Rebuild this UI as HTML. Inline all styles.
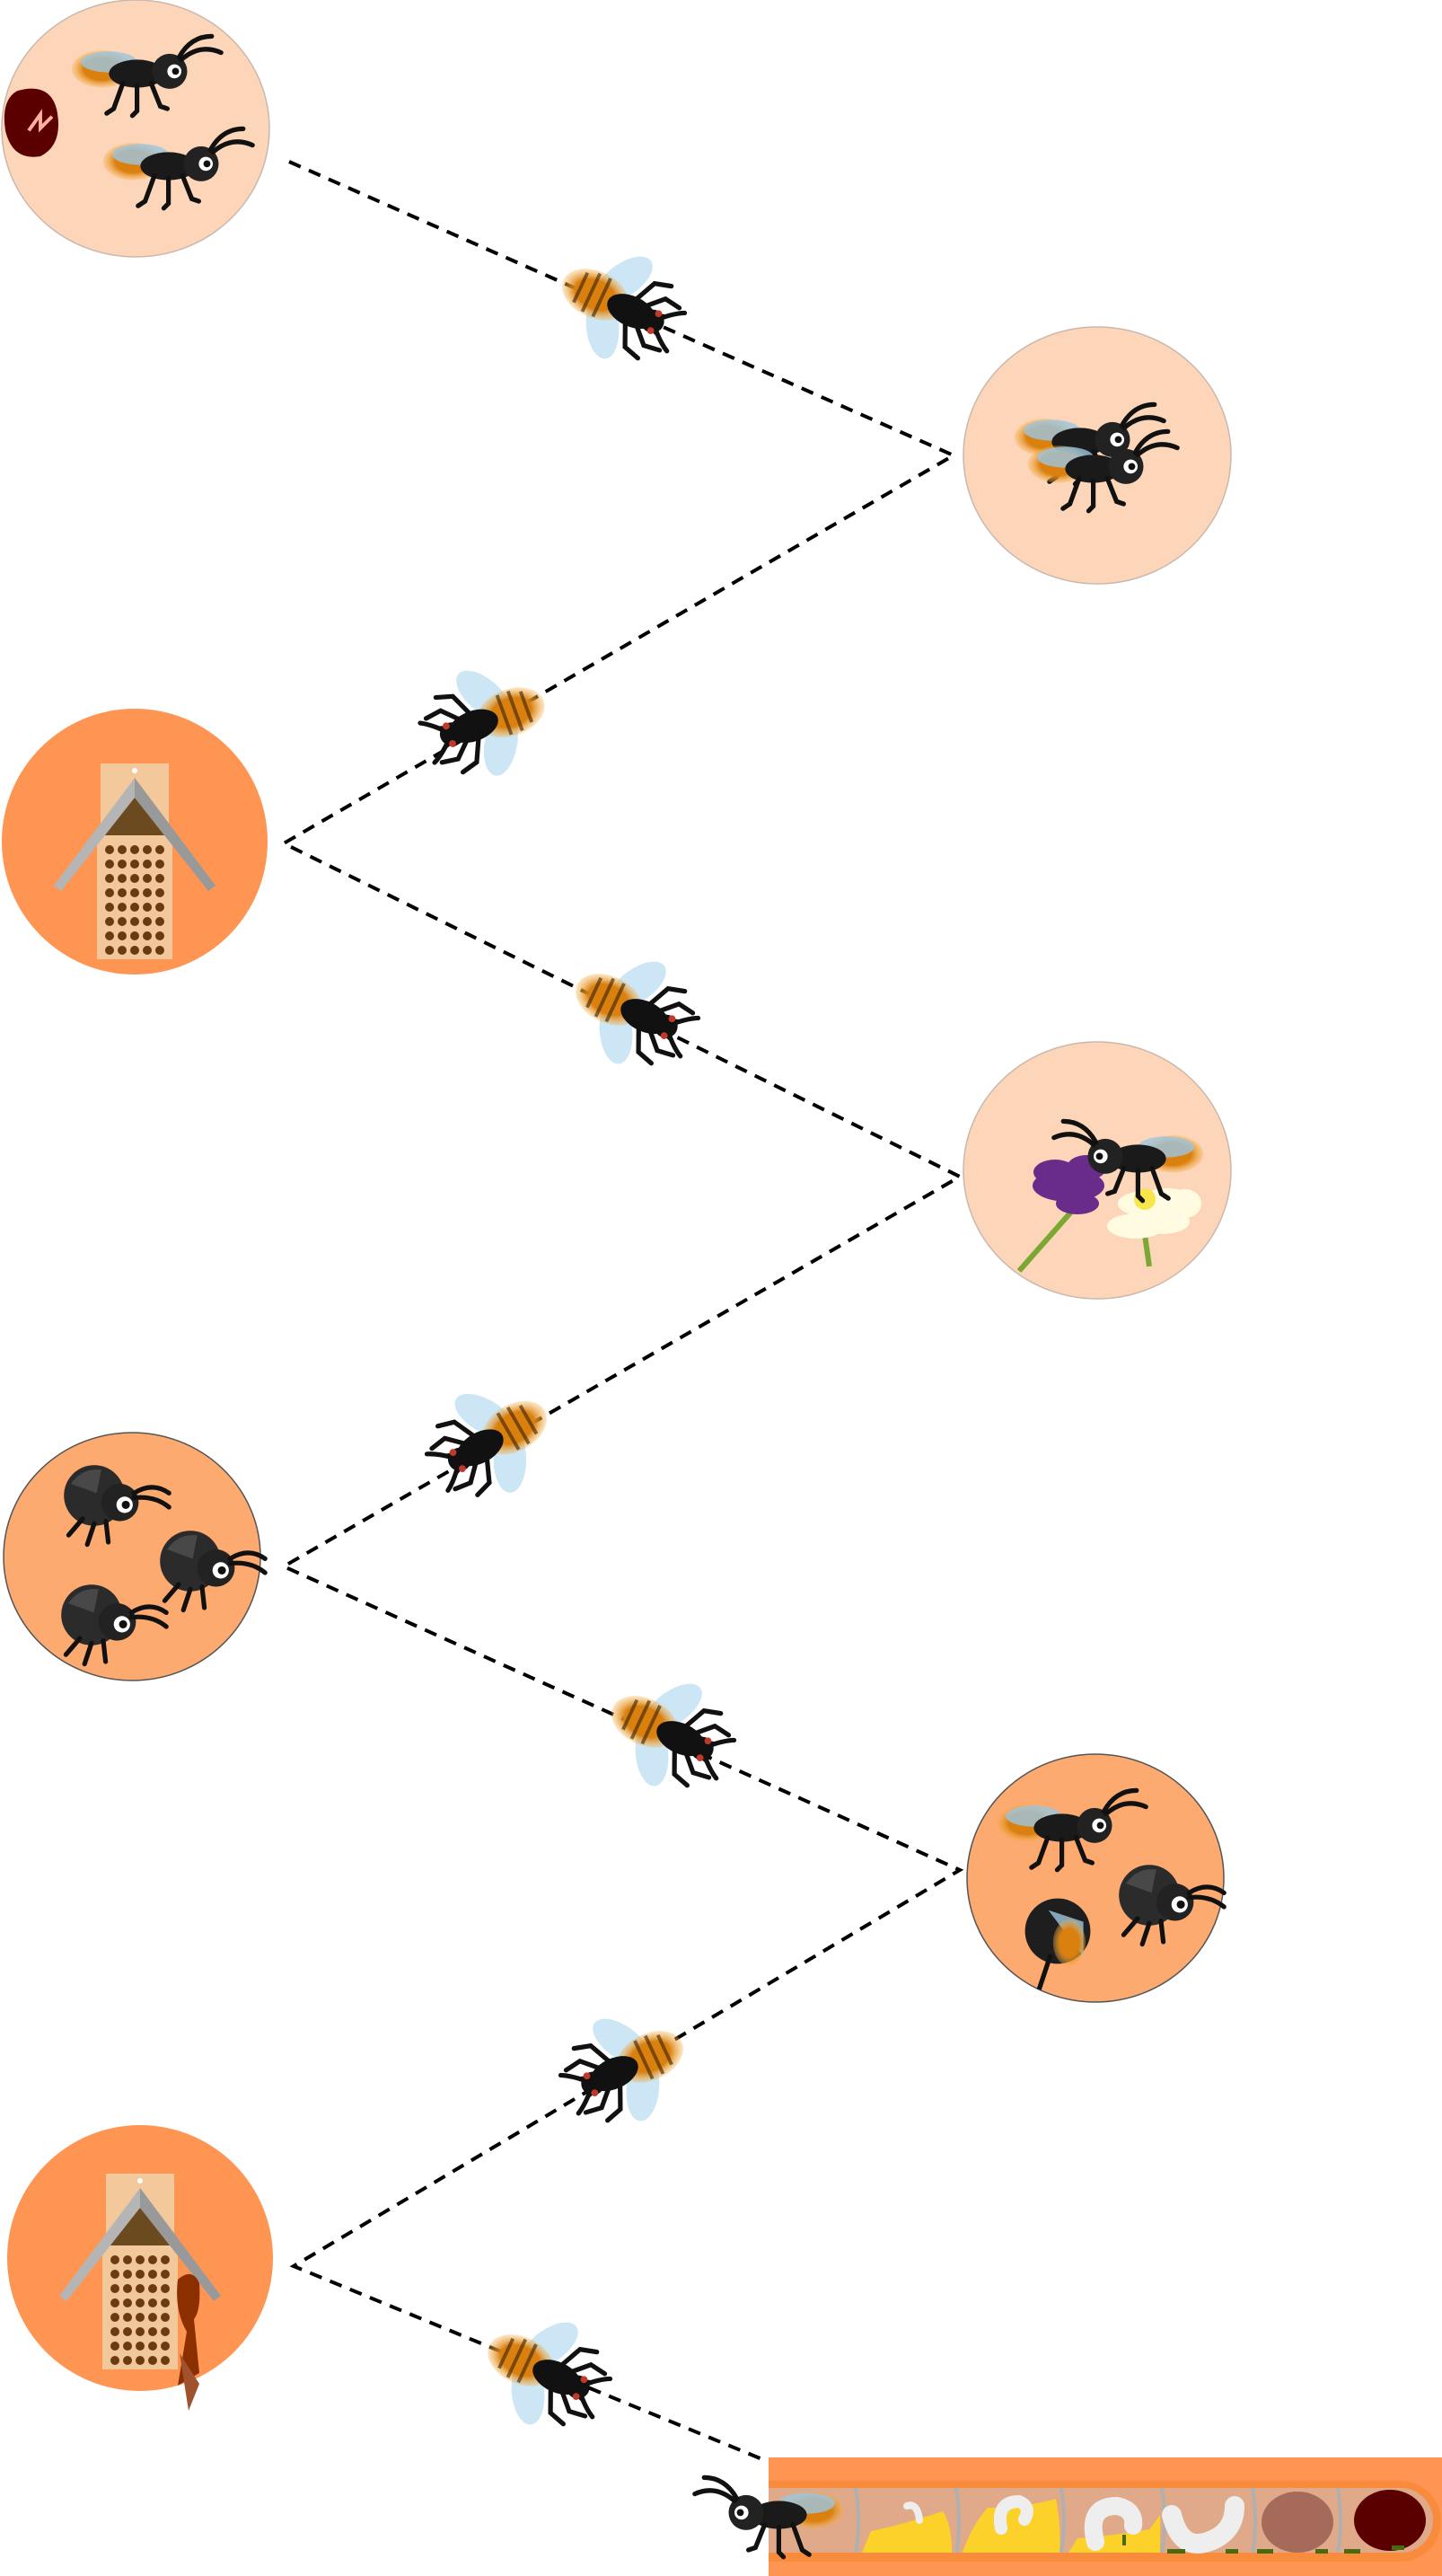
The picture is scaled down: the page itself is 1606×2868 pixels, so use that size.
<!DOCTYPE html>
<html><head><meta charset="utf-8"><style>html,body{margin:0;padding:0;background:#fff}svg{display:block}</style></head><body>
<svg width="1606" height="2868" viewBox="0 0 1606 2868" xmlns="http://www.w3.org/2000/svg">
<defs>
<radialGradient id="fur" cx="50%" cy="50%" r="50%"><stop offset="0.6" stop-color="#d9800f"/><stop offset="1" stop-color="#f5b04a" stop-opacity="0.3"/></radialGradient>
<g id="bee">
 <ellipse cx="-5" cy="-22" rx="28" ry="14" fill="#bfe0f2" opacity="0.8" transform="rotate(-60 -5 -22)"/>
 <ellipse cx="-5" cy="22" rx="28" ry="14" fill="#bfe0f2" opacity="0.8" transform="rotate(60 -5 22)"/>
 <g stroke="#111" stroke-width="4" fill="none" stroke-linecap="round">
  <path d="M10 -8 l10 -22 l14 -4"/><path d="M18 -6 l16 -16 l14 2"/><path d="M22 -2 l18 -6"/>
  <path d="M10 8 l10 22 l14 4"/><path d="M18 6 l16 16 l14 -2"/><path d="M22 2 l18 6"/>
  <path d="M36 -4 q10 -10 18 -14"/><path d="M36 4 q10 10 18 14"/>
 </g>
 <ellipse cx="-22" cy="0" rx="30" ry="20" fill="url(#fur)"/>
 <g stroke="#3a2000" stroke-width="3" opacity="0.6"><path d="M-36 -14 v28"/><path d="M-26 -18 v36"/><path d="M-16 -18 v36"/></g>
 <ellipse cx="12" cy="0" rx="22" ry="13" fill="#111"/>
 <circle cx="32" cy="0" r="10" fill="#111"/>
 <circle cx="34" cy="-8" r="3" fill="#c0392b"/><circle cx="34" cy="8" r="3" fill="#c0392b"/>
</g>
<g id="walker">
 <ellipse cx="-28" cy="-4" rx="26" ry="16" fill="url(#fur)"/>
 <ellipse cx="-22" cy="-10" rx="24" ry="9" fill="#9cc6e0" opacity="0.8"/>
 <ellipse cx="2" cy="0" rx="24" ry="12" fill="#1a1a1a"/>
 <circle cx="30" cy="-2" r="15" fill="#222"/>
 <circle cx="34" cy="-2" r="6" fill="#fff"/><circle cx="35" cy="-2" r="3" fill="#111"/>
 <g stroke="#111" stroke-width="4" fill="none" stroke-linecap="round">
  <path d="M-10 8 l-8 22 l-6 4"/><path d="M2 10 l0 22 l-4 4"/><path d="M14 8 l8 20 l6 2"/>
  <path d="M40 -12 q16 -14 34 -6"/><path d="M38 -14 q10 -18 28 -18"/>
 </g>
</g>
<g id="round">
 <circle cx="0" cy="0" r="26" fill="#2b2b2b"/>
 <path d="M-20 -10 q10 -14 26 -12 l-4 20z" fill="#555" opacity="0.7"/>
 <circle cx="22" cy="6" r="16" fill="#222"/>
 <circle cx="26" cy="8" r="7" fill="#fff"/><circle cx="27" cy="8" r="3.5" fill="#111"/>
 <g stroke="#111" stroke-width="4" fill="none" stroke-linecap="round">
  <path d="M0 24 l-6 18"/><path d="M10 22 l2 18"/><path d="M-10 20 l-12 14"/>
  <path d="M34 -2 q16 -10 30 0"/><path d="M34 2 q18 -2 30 8"/>
 </g>
</g>
<g id="house">
 <rect x="-42" y="-22" width="84" height="140" fill="#f2c89a"/>
 <rect x="-38" y="-100" width="76" height="90" fill="#f3c99b"/>
 <path d="M-40 -20 L0 -62 L40 -20 Z" fill="#6b4a20"/>
 <g fill="#6b3a10">
  <circle cx="-28" cy="-4" r="5"/><circle cx="-14" cy="-4" r="5"/><circle cx="0" cy="-4" r="5"/><circle cx="14" cy="-4" r="5"/><circle cx="28" cy="-4" r="5"/>
  <circle cx="-28" cy="12" r="5"/><circle cx="-14" cy="12" r="5"/><circle cx="0" cy="12" r="5"/><circle cx="14" cy="12" r="5"/><circle cx="28" cy="12" r="5"/>
  <circle cx="-28" cy="28" r="5"/><circle cx="-14" cy="28" r="5"/><circle cx="0" cy="28" r="5"/><circle cx="14" cy="28" r="5"/><circle cx="28" cy="28" r="5"/>
  <circle cx="-28" cy="44" r="5"/><circle cx="-14" cy="44" r="5"/><circle cx="0" cy="44" r="5"/><circle cx="14" cy="44" r="5"/><circle cx="28" cy="44" r="5"/>
  <circle cx="-28" cy="60" r="5"/><circle cx="-14" cy="60" r="5"/><circle cx="0" cy="60" r="5"/><circle cx="14" cy="60" r="5"/><circle cx="28" cy="60" r="5"/>
  <circle cx="-28" cy="76" r="5"/><circle cx="-14" cy="76" r="5"/><circle cx="0" cy="76" r="5"/><circle cx="14" cy="76" r="5"/><circle cx="28" cy="76" r="5"/>
  <circle cx="-28" cy="92" r="5"/><circle cx="-14" cy="92" r="5"/><circle cx="0" cy="92" r="5"/><circle cx="14" cy="92" r="5"/><circle cx="28" cy="92" r="5"/>
  <circle cx="-28" cy="108" r="5"/><circle cx="-14" cy="108" r="5"/><circle cx="0" cy="108" r="5"/><circle cx="14" cy="108" r="5"/><circle cx="28" cy="108" r="5"/>
 </g>
 <path d="M-90 36 L0 -84 L90 36 L82 42 L0 -62 L-82 42 Z" fill="#b5b5b5"/>
 <path d="M0 -84 L90 36 L82 42 L0 -62 Z" fill="#999"/>
 <circle cx="0" cy="-92" r="3" fill="#fff"/>
</g>
</defs>

<polyline points="322,180 1062,507 316,939 1069,1310 316,1744 1069,2082 327,2523 849,2738" fill="none" stroke="#000" stroke-width="4" stroke-dasharray="14,10"/>

<ellipse cx="151" cy="143" rx="149" ry="143" fill="#fdd5b8" stroke="#c9b8ad" stroke-width="1.5"/>
<g transform="translate(58,148) scale(1.3)"><path d="M-30 -36 q28 -8 34 16 q6 30 -14 40 q-24 4 -30 -22 q-4 -26 10 -34z" fill="#5a0000"/><path d="M-20 -2 l10 -14 l0 12 l10 -10" stroke="#ffb0a0" stroke-width="3" fill="none"/></g>
<use href="#walker" transform="translate(150,82) scale(1.3)"/>
<use href="#walker" transform="translate(185,185) scale(1.3)"/>

<ellipse cx="1222" cy="507" rx="149" ry="143" fill="#fdd5b8" stroke="#c9b8ad" stroke-width="1.5"/>
<use href="#walker" transform="translate(1200,492) scale(1.3)"/>
<use href="#walker" transform="translate(1215,522) scale(1.3)"/>

<circle cx="150" cy="937" r="148" fill="#fe9552"/>
<use href="#house" transform="translate(150,950)"/>

<ellipse cx="1222" cy="1303" rx="149" ry="143" fill="#fdd5b8" stroke="#c9b8ad" stroke-width="1.5"/>
<path d="M1135 1415 L1210 1330" stroke="#7aa832" stroke-width="6"/>
<path d="M1270 1340 L1280 1410" stroke="#7aa832" stroke-width="6"/>
<g fill="#fffbe0"><ellipse cx="1275" cy="1340" rx="30" ry="14"/><ellipse cx="1300" cy="1335" rx="28" ry="12"/><ellipse cx="1265" cy="1365" rx="32" ry="14"/><ellipse cx="1295" cy="1360" rx="30" ry="14"/><ellipse cx="1320" cy="1340" rx="18" ry="16"/></g>
<circle cx="1275" cy="1335" r="12" fill="#f7e54a"/>
<g fill="#6a2c8a"><ellipse cx="1190" cy="1320" rx="40" ry="18"/><ellipse cx="1175" cy="1305" rx="24" ry="14"/><ellipse cx="1210" cy="1300" rx="22" ry="14"/><ellipse cx="1200" cy="1340" rx="24" ry="12"/></g>
<use href="#walker" transform="translate(1270,1290) scale(-1.3,1.3)"/>

<ellipse cx="147" cy="1733" rx="143" ry="138" fill="#fdaa70" stroke="#555" stroke-width="1.5"/>
<use href="#round" transform="translate(105,1665) scale(1.3)"/>
<use href="#round" transform="translate(212,1738) scale(1.3)"/>
<use href="#round" transform="translate(102,1798) scale(1.3)"/>

<ellipse cx="1220" cy="2091" rx="143" ry="138" fill="#fdaa70" stroke="#555" stroke-width="1.5"/>
<use href="#walker" transform="translate(1180,2035) scale(1.3)"/>
<use href="#round" transform="translate(1280,2110) scale(1.3)"/>
<g transform="translate(1178,2150) scale(1.3)"><circle r="28" fill="#1e1e1e"/><path d="M-8 -18 l30 10 l0 30 z" fill="#9cc6e0" opacity="0.8"/><ellipse cx="10" cy="10" rx="14" ry="20" fill="url(#fur)"/><path d="M-6 20 l-10 30" stroke="#111" stroke-width="4"/></g>

<circle cx="156" cy="2514" r="148" fill="#fe9552"/>
<use href="#house" transform="translate(156,2520)"/>
<path d="M198 2538 q16 -14 24 4 q2 30 -6 40 l6 60 l-24 14 l10 -60 q-14 -24 -10 -58z" fill="#8b2e00"/>
<path d="M200 2620 l10 64 l12 -30z" fill="#a0522d"/>

<use href="#bee" transform="translate(689,340) rotate(25) scale(1.3)"/>
<use href="#bee" transform="translate(542,803) rotate(160) scale(1.3)"/>
<use href="#bee" transform="translate(704,1125) rotate(25) scale(1.3)"/>
<use href="#bee" transform="translate(548,1604) rotate(150) scale(1.3)"/>
<use href="#bee" transform="translate(744,1929) rotate(25) scale(1.3)"/>
<use href="#bee" transform="translate(698,2302) rotate(155) scale(1.3)"/>
<use href="#bee" transform="translate(606,2640) rotate(25) scale(1.3)"/>

<rect x="856" y="2736" width="750" height="132" fill="#fe9552"/>
<path d="M856 2762 H1560 a45 45 0 0 1 0 90 H856 Z" fill="#f98c3c"/>
<path d="M856 2770 H1560 a36 36 0 0 1 0 72 H856 Z" fill="#e0a98a"/>
<g stroke="#b0b0b0" stroke-width="4" fill="none">
 <path d="M953 2770 q6 36 0 72"/><path d="M1065 2770 q6 36 0 72"/><path d="M1182 2770 q6 36 0 72"/><path d="M1294 2770 q6 36 0 72"/><path d="M1395 2770 q6 36 0 72"/><path d="M1490 2770 q6 36 0 72"/>
</g>
<path d="M960 2842 l10 -24 q30 -6 80 -22 q10 14 10 46z" fill="#fcd12a"/>
<path d="M1072 2842 q10 -30 28 -50 q40 0 76 -10 q6 30 4 60z" fill="#fcd12a"/>
<path d="M1190 2842 l10 -16 q50 -4 80 -10 q8 -10 12 -16 l0 42z" fill="#fcd12a"/>
<path d="M1010 2790 q12 -4 14 16" stroke="#eee" stroke-width="8" fill="none" stroke-linecap="round"/>
<path d="M1115 2815 q-6 -30 20 -30 q14 6 6 20" stroke="#eee" stroke-width="14" fill="none" stroke-linecap="round"/>
<path d="M1220 2830 q-10 -40 24 -40 q20 4 18 22" stroke="#eee" stroke-width="20" fill="none" stroke-linecap="round"/>
<path d="M1305 2800 q10 40 40 30 q30 -10 30 -40" stroke="#eee" stroke-width="22" fill="none" stroke-linecap="round"/>
<ellipse cx="1445" cy="2808" rx="40" ry="34" fill="#a66a5a"/>
<ellipse cx="1548" cy="2806" rx="40" ry="34" fill="#5a0000"/>
<g fill="#4a6a10"><rect x="1300" y="2838" width="20" height="5"/><rect x="1365" y="2838" width="14" height="5"/><rect x="1400" y="2838" width="18" height="5"/><rect x="1465" y="2838" width="14" height="5"/><rect x="1497" y="2838" width="18" height="5"/><rect x="1550" y="2834" width="14" height="5"/><rect x="1250" y="2822" width="4" height="12"/></g>
<use href="#walker" transform="translate(870,2800) scale(-1.3,1.3)"/>
</svg>
</body></html>
